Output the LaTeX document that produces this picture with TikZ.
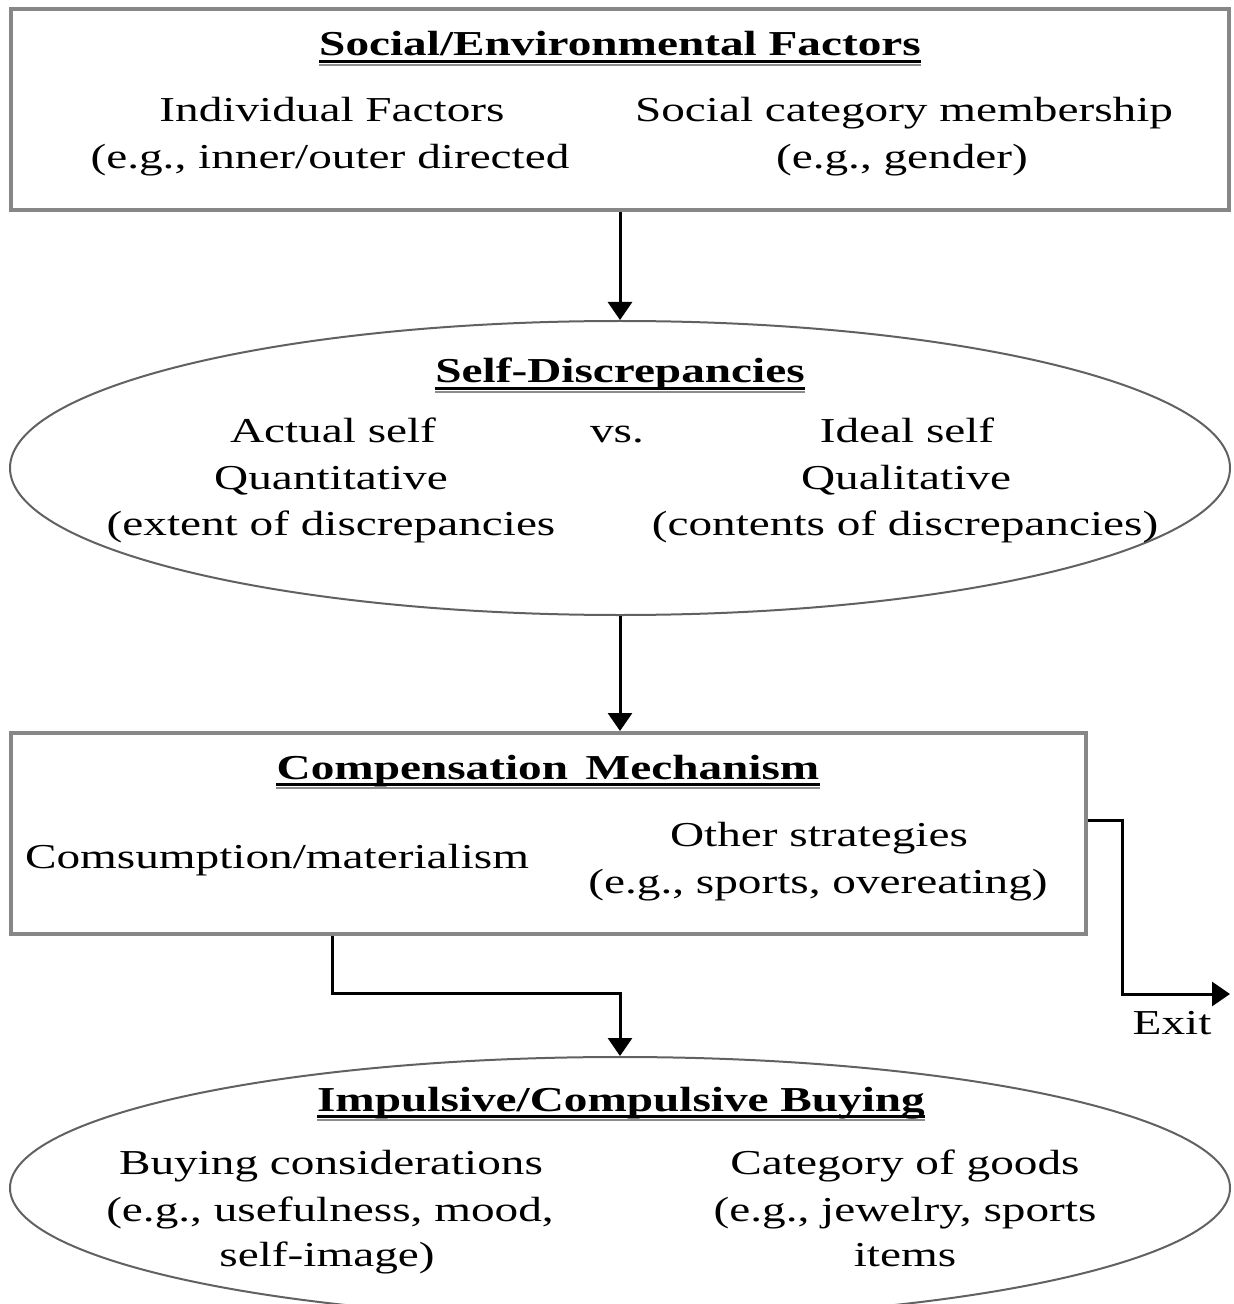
\documentclass[tikz,border=0pt]{standalone}
\usepackage{fontspec}
\setmainfont{Liberation Serif}[FakeStretch=1.35]
\usetikzlibrary{shapes.geometric,arrows.meta}
\definecolor{framegray}{RGB}{135,135,135}

\begin{document}
\begin{tikzpicture}[x=0.5pt,y=-0.5pt,
  boxframe/.style={draw=framegray, line width=2pt, minimum height=100.5pt, inner sep=0pt},
  ovalframe/.style={ellipse, draw=black!62, line width=1pt, inner sep=0pt},
  txt/.style={anchor=base, inner sep=0pt, font=\fontsize{17.5}{23.5}\selectfont},
  head/.style={anchor=base, inner sep=0pt, font=\fontsize{17.5}{23.5}\selectfont\bfseries},
  link/.style={draw=black, line width=1.5pt, -{Triangle[length=9pt,width=12pt]}},
]
\useasboundingbox (0,0) rectangle (1234,1304);
\clip (0,0) rectangle (1234,1304);

% underline under a heading: black rule with a grey rule beneath
\newcommand{\headrule}[1]{%
  \draw[line width=1.6pt] ([yshift=-2.75pt]#1.base west) -- ([yshift=-2.75pt]#1.base east);
  \draw[line width=1pt, black!45] ([yshift=-4.3pt]#1.base west) -- ([yshift=-4.3pt]#1.base east);}

% ---- Social/Environmental Factors
\node[boxframe, minimum width=609pt] (social) at (620,109.5) {};
\node[head] (socialH) at (620,56) {Social/Environmental Factors};
\headrule{socialH}
\node[txt] (indA) at (332,122) {Individual Factors};
\node[txt] (indB) at (330,169) {(e.g., inner/outer directed};
\node[txt] (catA) at (904,122) {Social category membership};
\node[txt] (catB) at (902,169) {(e.g., gender)};

% ---- Self-Discrepancies
\node[ovalframe, minimum width=610pt, minimum height=147pt] (disc) at (620,468) {};
\node[head] (discH) at (620,383) {Self-Discrepancies};
\headrule{discH}
\node[txt] (actual) at (333,442) {Actual self};
\node[txt] (vs) at (617,442) {vs.};
\node[txt] (ideal) at (907,442) {Ideal self};
\node[txt] (quant) at (331,489) {Quantitative};
\node[txt] (qual) at (906,489) {Qualitative};
\node[txt] (extent) at (331,535) {(extent of discrepancies};
\node[txt] (contents) at (905,535) {(contents of discrepancies)};

% ---- Compensation Mechanism
\node[boxframe, minimum width=537.5pt] (comp) at (548.5,833.5) {};
\node[head] (compH) at (548,779) {Compensation\, Mechanism};
\headrule{compH}
\node[txt] (consum) at (277,868) {Comsumption/materialism};
\node[txt] (otherA) at (819,846) {Other strategies};
\node[txt] (otherB) at (818,893) {(e.g., sports, overeating)};

% ---- Impulsive/Compulsive Buying
\node[ovalframe, minimum width=610pt, minimum height=131pt] (buy) at (620,1188) {};
\node[head] (buyH) at (621,1111) {Impulsive/Compulsive Buying};
\headrule{buyH}
\node[txt] (consA) at (331,1174) {Buying considerations};
\node[txt] (consB) at (330,1221) {(e.g., usefulness, mood,};
\node[txt] (consC) at (327,1266) {self-image)};
\node[txt] (goodsA) at (905,1174) {Category of goods};
\node[txt] (goodsB) at (905,1221) {(e.g., jewelry, sports};
\node[txt] (goodsC) at (905,1266) {items};

% ---- exit label
\node[txt] (exit) at (1172,1034) {Exit};

% ---- connectors
\coordinate (joint) at (332,993);
\coordinate (bend) at (1122,820);
\coordinate (exitend) at (1230,994);

\draw[link] (social.south) -- (disc.north);
\draw[link] (disc.south) -- (disc.south |- comp.north);
\draw[link] (joint |- comp.south) -- (joint) -| (buy.north);
\draw[link] (comp.east |- bend) -- (bend) |- (exitend);
\end{tikzpicture}
\end{document}
